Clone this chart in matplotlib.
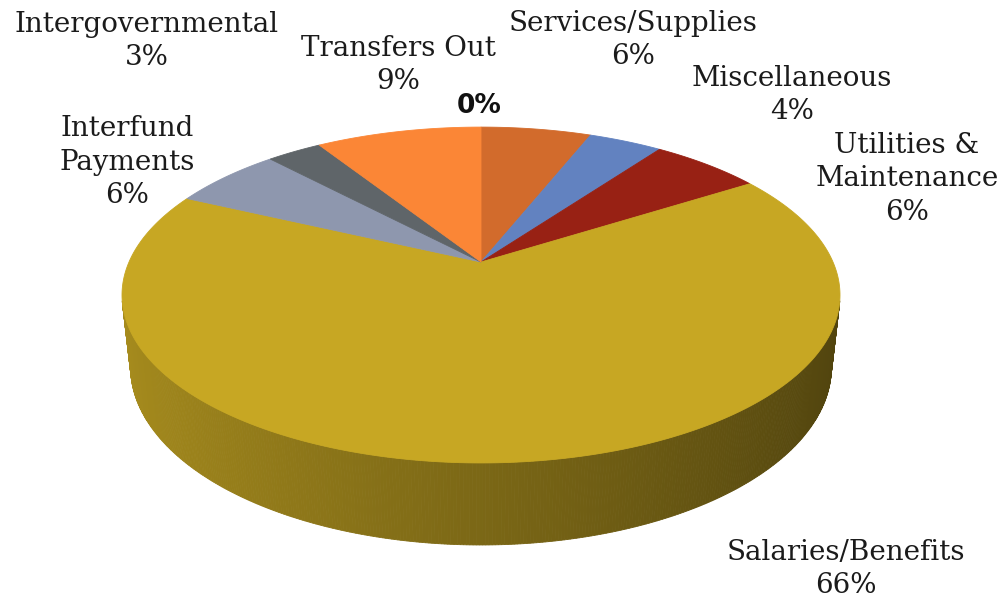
import numpy as np
import matplotlib
matplotlib.use("Agg")
import matplotlib.pyplot as plt
from matplotlib.patches import Polygon
from matplotlib.colors import to_rgb

# Expenditure shares, clockwise from twelve o'clock
categories = ["Services/Supplies", "Miscellaneous", "Utilities &\nMaintenance",
              "Salaries/Benefits", "Interfund\nPayments", "Intergovernmental",
              "Transfers Out", ""]
shares = [6, 4, 6, 66, 6, 3, 9, 0]
colors = ["#D26B2C", "#6282C0", "#982114", "#C7A723",
          "#8E97AE", "#5F6569", "#FB8636", "#A5A5A5"]

# label block centres (pixels)
label_pos = [(633, 40), (792, 95), (907, 179), (846, 569),
             (127, 162), (147, 41), (398, 65), (479, 106)]

W, H = 1006, 603
fig = plt.figure(figsize=(W / 100, H / 100), dpi=100)
ax = fig.add_axes([0, 0, 1, 1])
ax.set_xlim(0, W)
ax.set_ylim(H, 0)
ax.axis("off")

# perspective camera looking down on a unit disc
X0, Y0 = 481, 262
phi = np.deg2rad(27.3)
D = 4.52
F = 1591.0
thick = 0.232


def project(theta, z=0.0):
    u = np.sin(theta)
    v = np.cos(theta)
    depth = D + v * np.cos(phi) - z * np.sin(phi)
    x = X0 + F * u / depth
    y = Y0 - F * (v * np.sin(phi) + z * np.cos(phi)) / depth
    return x, y


total = float(sum(shares))
bounds = np.concatenate([[0.0], np.cumsum(shares) / total]) * 2 * np.pi


def slice_of(theta):
    for i in range(len(shares)):
        if bounds[i] <= theta < bounds[i + 1] and shares[i] > 0:
            return i
    return len(shares) - 1


# outer wall (front-facing part only)
lim = np.arccos(-1.0 / (D * np.cos(phi)))
ts = np.linspace(lim - 0.02, 2 * np.pi - lim + 0.02, 360)
for a, b in zip(ts[:-1], ts[1:]):
    mid = 0.5 * (a + b)
    i = slice_of(mid)
    shade = 0.62 - 0.22 * np.sin(mid)
    c = np.clip(np.array(to_rgb(colors[i])) * shade, 0, 1)
    xa, ya = project(a)
    xb, yb = project(b)
    xc, yc = project(b, -thick)
    xd, yd = project(a, -thick)
    ax.add_patch(Polygon([(xa, ya), (xb, yb), (xc, yc), (xd, yd)],
                         closed=True, facecolor=c, edgecolor=c, lw=0.6))

# top face
for i, s in enumerate(shares):
    if s <= 0:
        continue
    th = np.linspace(bounds[i], bounds[i + 1], max(8, int(s * 6)))
    xs, ys = project(th)
    pts = [(X0, Y0)] + list(zip(xs, ys))
    ax.add_patch(Polygon(pts, closed=True, facecolor=colors[i],
                         edgecolor=colors[i], lw=0.6))

# data labels
for cat, s, (lx, ly) in zip(categories, shares, label_pos):
    if cat:
        ax.text(lx, ly, f"{cat}\n{s}%", ha="center", va="center",
                fontsize=20, family="DejaVu Serif", color="#1b1b1b",
                linespacing=1.33)
    else:
        ax.text(lx, ly, f"{s}%", ha="center", va="center",
                fontsize=19, family="DejaVu Sans", fontweight="bold",
                color="#111111")

fig.savefig("out.png", dpi=100)
